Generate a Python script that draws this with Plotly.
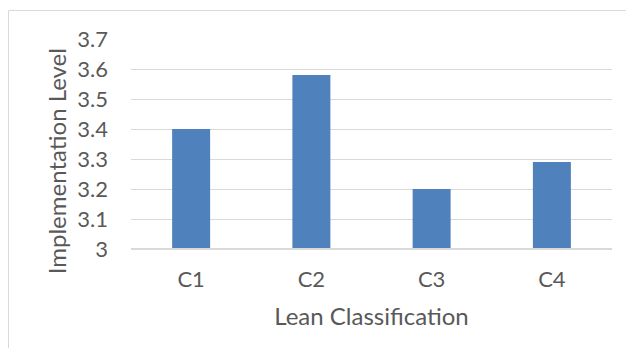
import plotly.graph_objects as go

categories = ["C1", "C2", "C3", "C4"]
values = [3.40, 3.58, 3.20, 3.29]
y_ticks = [3, 3.1, 3.2, 3.3, 3.4, 3.5, 3.6, 3.7]
y_tick_labels = ["3", "3.1", "3.2", "3.3", "3.4", "3.5", "3.6", "3.7"]

font_family = "Lato, Carlito, Calibri, sans-serif"
grey = "#595959"

fig = go.Figure(go.Bar(x=categories, y=values, marker=dict(color="#4f81bd", line=dict(width=0)),
                       width=0.316))

# page body has 8px margin; figure placed at (8,8)
fig.update_layout(
    width=618, height=340,
    margin=dict(l=123, r=14, t=31, b=99, autoexpand=False),
    paper_bgcolor="white", plot_bgcolor="white",
    showlegend=False,
    font=dict(family=font_family, color=grey, size=22),
    xaxis=dict(
        showgrid=False, showline=False, zeroline=False, automargin=False,
        tickfont=dict(size=22, color=grey),
        ticklabelstandoff=15,
        title=dict(text="Lean Classification", font=dict(size=24, color=grey), standoff=17),
    ),
    yaxis=dict(
        range=[3, 3.7], tickvals=y_ticks, ticktext=y_tick_labels,
        showgrid=True, gridcolor="#d9d9d9", gridwidth=1,
        zeroline=False, showline=False, automargin=False,
        tickfont=dict(size=22, color=grey),
        ticklabelstandoff=22,
    ),
    annotations=[
        dict(text="Implementation Level", xref="paper", yref="paper",
             x=(48 - 123) / 481, y=(240.7 - 153) / 210, textangle=-90,
             showarrow=False, xanchor="center", yanchor="middle",
             font=dict(size=24, color=grey)),
    ],
    shapes=[
        dict(type="line", xref="paper", yref="paper", x0=0, x1=1, y0=0, y1=0,
             line=dict(color="#d9d9d9", width=2)),
        dict(type="rect", xref="paper", yref="paper",
             x0=-122.5/481, x1=1.2, y0=-0.6, y1=1 + 28.5/210,
             line=dict(color="#d9d9d9", width=1), layer="below"),
    ],
)

fig.write_html("out.html")
